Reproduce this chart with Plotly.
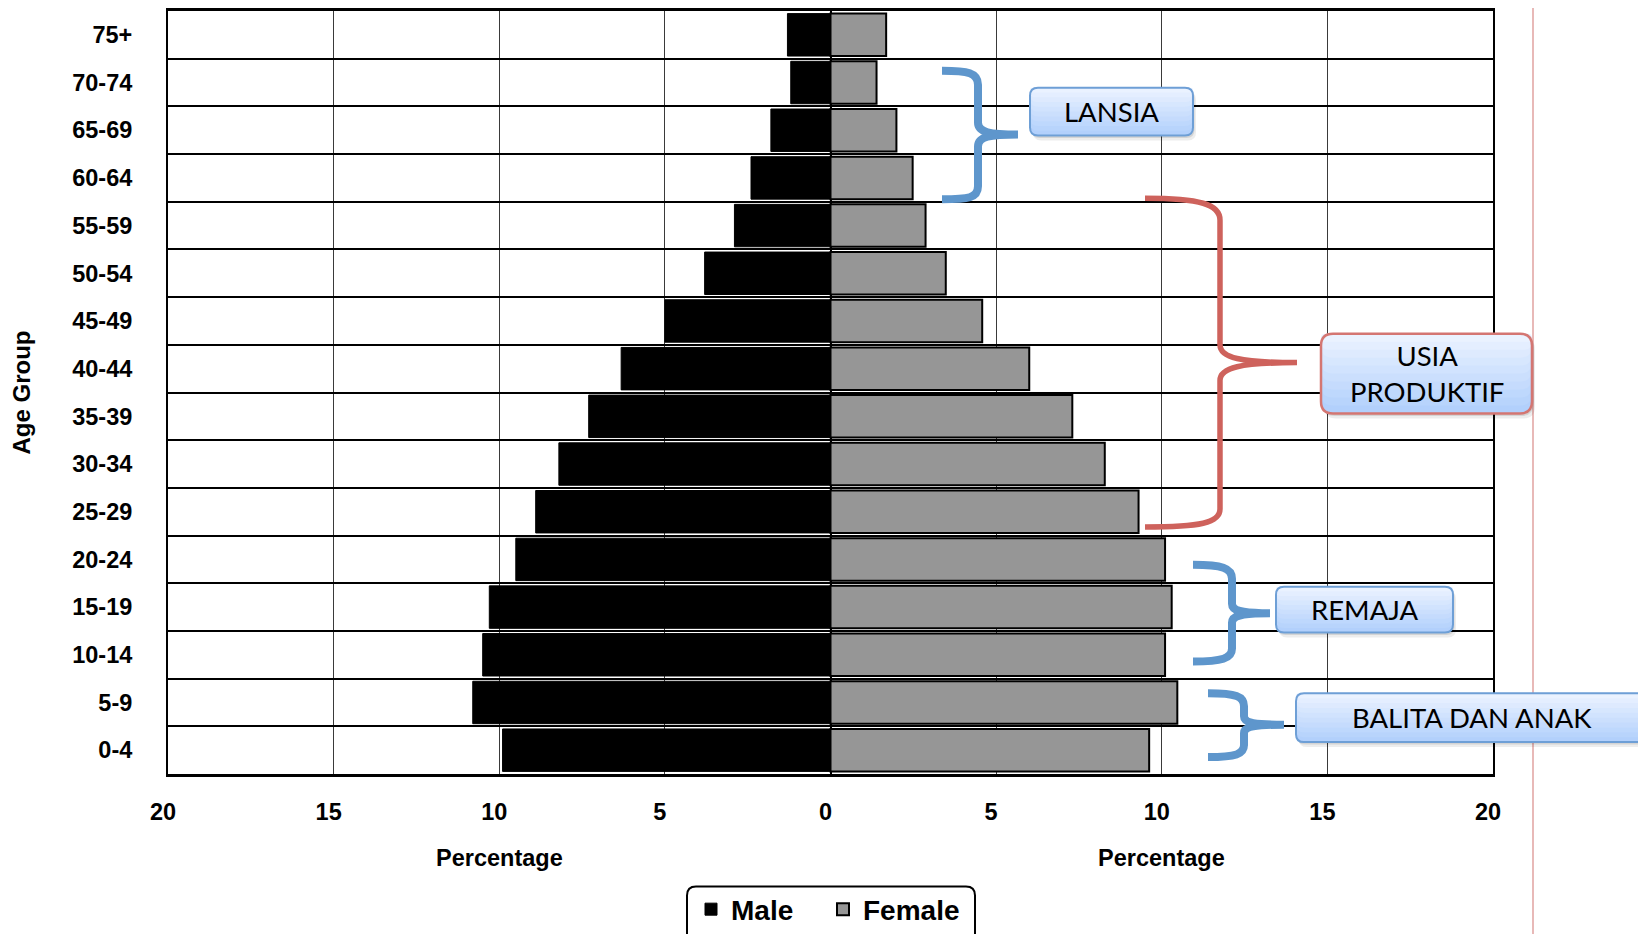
import plotly.graph_objects as go

# ---------------- data ----------------
age_groups = ["0-4", "5-9", "10-14", "15-19", "20-24", "25-29", "30-34", "35-39",
              "40-44", "45-49", "50-54", "55-59", "60-64", "65-69", "70-74", "75+"]
male = [9.9, 10.8, 10.5, 10.3, 9.5, 8.9, 8.2, 7.3,
        6.32, 5.0, 3.8, 2.9, 2.4, 1.8, 1.2, 1.3]
female = [9.62, 10.47, 10.1, 10.3, 10.1, 9.3, 8.28, 7.3,
          6.0, 4.58, 3.48, 2.87, 2.48, 1.99, 1.39, 1.68]
x_tickvals = [-20, -15, -10, -5, 0, 5, 10, 15, 20]
x_ticktext = ["20", "15", "10", "5", "0", "5", "10", "15", "20"]
group_labels = ["LANSIA", "USIA<br>PRODUKTIF", "REMAJA", "BALITA DAN ANAK"]

# ---------------- layout geometry ----------------
# page coordinates measured on the reference; the page body has an 8px margin
OFF = 8
W, H = 1646, 934
L, R, T, B = 160, 1485, 0, 766   # plot area in figure coordinates
PW, PH = R - L, B - T


def px(x):
    return (x - OFF - L) / PW


def py(y):
    return (B - (y - OFF)) / PH


def path_from(cmds):
    out = []
    for c in cmds:
        if isinstance(c, str):
            out.append(c)
        else:
            out.append(f"{px(c[0]):.5f},{py(c[1]):.5f}")
    return " ".join(out)


def rrect(x0, y0, x1, y1, r):
    return path_from(["M", (x0 + r, y0), "L", (x1 - r, y0), "Q", (x1, y0), (x1, y0 + r),
                      "L", (x1, y1 - r), "Q", (x1, y1), (x1 - r, y1),
                      "L", (x0 + r, y1), "Q", (x0, y1), (x0, y1 - r),
                      "L", (x0, y0 + r), "Q", (x0, y0), (x0 + r, y0), "Z"])


shapes = []


def add_path(p, line_color=None, width=0, fill=None):
    d = dict(type="path", path=p, xref="paper", yref="paper", layer="above",
             line=dict(color=line_color if line_color else "rgba(0,0,0,0)", width=width))
    if fill:
        d["fillcolor"] = fill
    shapes.append(d)


def gradient_box(x0, y0, x1, y1, r, border, bw):
    add_path(rrect(x0 + 3, y0 + 4, x1 + 3, y1 + 5, r), fill="rgba(0,0,0,0.07)")
    add_path(rrect(x0 + 1.5, y0 + 2, x1 + 1.5, y1 + 2.5, r), fill="rgba(0,0,0,0.10)")
    top = (234, 242, 255)
    bot = (178, 208, 252)
    add_path(rrect(x0, y0, x1, y1, r), fill=f"rgb{bot}")
    n = 10
    h = y1 - y0
    for k in range(1, n):
        t = k / (n - 1)
        col = tuple(int(round(bot[i] + (top[i] - bot[i]) * t)) for i in range(3))
        yb = y0 + h * (n - k) / n
        rr = min(r, (yb - y0) / 2)
        add_path(rrect(x0, y0, x1, yb, rr), fill=f"rgb{col}")
    add_path(rrect(x0, y0, x1, y1, r), line_color=border, width=bw)


def brace(pts, color, width):
    add_path(path_from(pts), line_color=color, width=width)


BLUE = "#5E96CC"
RED = "#CE625C"

# red vertical line at right
shapes.append(dict(type="line", xref="paper", yref="paper", x0=px(1533), x1=px(1533),
                   y0=py(0), y1=py(950), line=dict(color="#D98A88", width=1.2), layer="above"))

# braces
brace(["M", (942, 68), "C", (968, 68), (978, 70), (978, 82), "L", (978, 120),
       "C", (978, 130), (990, 132), (1018, 132), "C", (990, 132), (978, 134), (978, 144),
       "L", (978, 184), "C", (978, 196), (968, 197), (942, 197)], BLUE, 8)
brace(["M", (1145, 196), "C", (1200, 196), (1220, 202), (1220, 218), "L", (1220, 343),
       "C", (1220, 356), (1240, 361), (1297, 361), "C", (1240, 361), (1220, 366), (1220, 379),
       "L", (1220, 508), "C", (1220, 522), (1200, 526), (1145, 526)], RED, 5.5)
brace(["M", (1193, 564), "C", (1222, 564), (1232, 567), (1232, 578), "L", (1232, 603),
       "C", (1232, 610), (1240, 612.5), (1270, 612.5), "C", (1240, 612.5), (1232, 615), (1232, 622),
       "L", (1232, 648), "C", (1232, 658), (1222, 661), (1193, 661)], BLUE, 8)
brace(["M", (1208, 693), "C", (1236, 693), (1244, 696), (1244, 706), "L", (1244, 716),
       "C", (1244, 722), (1252, 724.5), (1284, 724.5), "C", (1252, 724.5), (1244, 727), (1244, 733),
       "L", (1244, 745), "C", (1244, 754), (1236, 757), (1208, 757)], BLUE, 8)

# callout boxes
boxes = [
    (1030, 85, 1193, 133, 8, "#6E9FD6", 2),
    (1321, 332, 1532, 412, 12, "#D47672", 2.5),
    (1276, 586, 1453, 632, 8, "#6E9FD6", 2),
    (1296, 693, 1648, 742, 8, "#6E9FD6", 2),
]
for b in boxes:
    gradient_box(*b)

# legend rounded frame
add_path(rrect(687, 887, 975, 950, 9), line_color="black", width=2)

annotations = []
for (bx0, by0, bx1, by1, *_), label in zip(boxes, group_labels):
    annotations.append(dict(x=px((bx0 + bx1) / 2), y=py((by0 + by1) / 2), xref="paper",
                            yref="paper", text=label, showarrow=False, xanchor="center",
                            yanchor="middle", align="center",
                            font=dict(family="Lato", size=27.5, color="black")))
annotations[3]["x"] = px(1472)

for xc in (499, 1161):
    annotations.append(dict(x=px(xc), y=py(858), xref="paper", yref="paper",
                            text="Percentage", showarrow=False, xanchor="center",
                            yanchor="middle",
                            font=dict(family="Liberation Sans, Arial", size=23.5,
                                      color="black", weight="bold")))

fig = go.Figure()
fig.add_trace(go.Bar(y=age_groups, x=[-v for v in male], orientation="h", name="Male",
                     marker=dict(color="black", line=dict(color="black", width=1)),
                     legend="legend", showlegend=True))
fig.add_trace(go.Bar(y=age_groups, x=female, orientation="h", name="Female",
                     marker=dict(color="#969696", line=dict(color="black", width=2)),
                     legend="legend2", showlegend=True))

legend_style = dict(orientation="h", xanchor="left", y=py(910), yanchor="middle",
                    font=dict(family="Liberation Sans, Arial", size=28, color="black",
                              weight="bold"),
                    bgcolor="rgba(0,0,0,0)", borderwidth=0)

fig.update_layout(
    width=W, height=H, autosize=False, showlegend=True,
    margin=dict(l=L, r=W - R, t=T, b=H - B, pad=0),
    paper_bgcolor="white", plot_bgcolor="white",
    barmode="relative", bargap=0.11,
    font=dict(family="Liberation Sans, Arial", color="black"),
    shapes=shapes, annotations=annotations,
    legend=dict(x=px(691), **legend_style),
    legend2=dict(x=px(823), **legend_style),
    xaxis=dict(range=[-20, 20], tickmode="array", tickvals=x_tickvals, ticktext=x_ticktext,
               showgrid=True, gridcolor="#3a3a3a", gridwidth=1,
               zeroline=True, zerolinecolor="black", zerolinewidth=2,
               showline=True, mirror=True, linecolor="black", linewidth=2.5,
               ticks="", ticklabelstandoff=15, ticklabelshift=-5,
               tickfont=dict(size=23.5, weight="bold", color="black")),
    yaxis=dict(type="category", categoryorder="array", categoryarray=age_groups,
               range=[-0.5, 15.5], tickson="boundaries",
               showgrid=True, gridcolor="black", gridwidth=1.5,
               showline=True, mirror=True, linecolor="black", linewidth=2,
               ticks="", ticklabelstandoff=29,
               tickfont=dict(size=23.5, weight="bold", color="black"),
               title=dict(text="Age Group", standoff=37,
                          font=dict(size=24, weight="bold", color="black"))),
)

fig.write_html("out.html")
